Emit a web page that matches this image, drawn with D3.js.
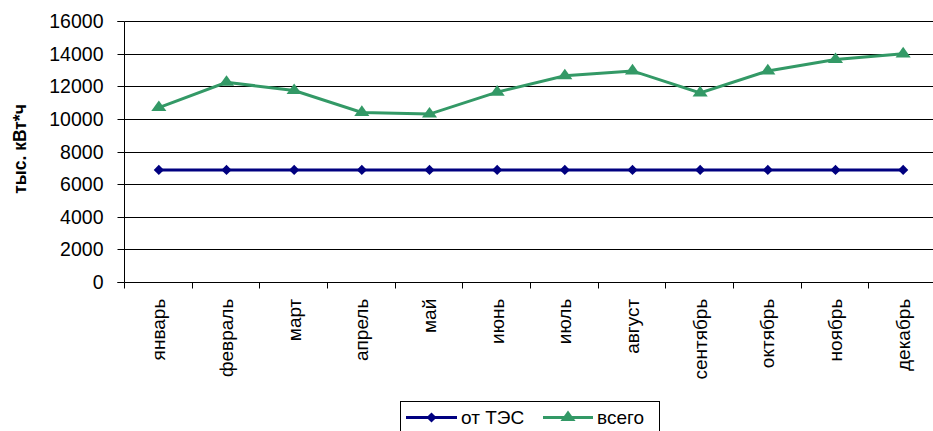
<!DOCTYPE html>
<html>
<head>
<meta charset="utf-8">
<script src="https://cdn.jsdelivr.net/npm/d3@7"></script>
<style>
  html, body { margin: 0; padding: 0; background: #fff; }
  svg { display: block; }
  text { font-family: "Liberation Sans", Arial, sans-serif; fill: #000; }
</style>
</head>
<body>
<svg id="chart" width="933" height="431"></svg>
<script>
// Monthly electricity volumes, thousand kWh
const months = ["январь", "февраль", "март", "апрель", "май", "июнь",
                "июль", "август", "сентябрь", "октябрь", "ноябрь", "декабрь"];
const fromTPP = [6870, 6870, 6870, 6870, 6870, 6870, 6870, 6870, 6870, 6870, 6870, 6870];
const total = [10700, 12250, 11750, 10400, 10300, 11650, 12650, 12950, 11600, 12950, 13650, 14000];
const yTicks = [0, 2000, 4000, 6000, 8000, 10000, 12000, 14000, 16000];
const seriesNames = ["от ТЭС", "всего"];
const yTitle = "тыс. кВт*ч";

const svg = d3.select("#chart");
const plot = { left: 125, right: 937, top: 21.3, bottom: 281.7 };

const x = d3.scaleBand().domain(months).range([plot.left, plot.right]).paddingInner(0).paddingOuter(0);
const y = d3.scaleLinear().domain([0, 16000]).range([plot.bottom, plot.top]);
const cx = m => x(m) + x.bandwidth() / 2;
const crisp = v => Math.round(v) + 0.5;

// horizontal gridlines
svg.append("g").selectAll("line").data(yTicks.slice(1)).join("line")
  .attr("x1", plot.left).attr("x2", 933)
  .attr("y1", d => crisp(y(d))).attr("y2", d => crisp(y(d)))
  .attr("stroke", "#000").attr("stroke-width", 1);

// y axis
const yAxis = d3.axisLeft(y).tickValues(yTicks).tickSize(7).tickPadding(14).tickFormat(d3.format("d"));
const gy = svg.append("g").attr("transform", `translate(${crisp(plot.left) - 1},0)`).call(yAxis);
gy.select(".domain").attr("d", `M-7,${crisp(plot.top)}H0V${crisp(plot.bottom)}H-7`).attr("stroke", "#000");
gy.selectAll(".tick line").attr("stroke", "#000");
gy.selectAll(".tick").attr("transform", d => `translate(0,${crisp(y(d))})`);
gy.selectAll(".tick text").style("font-family", '"Liberation Sans", Arial, sans-serif')
  .style("font-size", "19.5px").attr("fill", "#000").attr("dy", "0.35em");

// x axis with ticks on category boundaries
const boundaries = months.map(m => x(m)).concat([plot.right]);
svg.append("line")
  .attr("x1", plot.left).attr("x2", 933)
  .attr("y1", crisp(plot.bottom)).attr("y2", crisp(plot.bottom))
  .attr("stroke", "#000");
svg.append("g").selectAll("line").data(boundaries).join("line")
  .attr("x1", d => crisp(d) - 1).attr("x2", d => crisp(d) - 1)
  .attr("y1", crisp(plot.bottom)).attr("y2", crisp(plot.bottom) + 6)
  .attr("stroke", "#000");

svg.append("g").selectAll("text").data(months).join("text")
  .attr("transform", d => `translate(${cx(d)},${plot.bottom + 17}) rotate(-90)`)
  .attr("text-anchor", "end")
  .attr("dy", "0.35em")
  .style("font-size", "19px")
  .text(d => d);

// y axis title
svg.append("text")
  .attr("transform", `translate(20,149) rotate(-90)`)
  .attr("text-anchor", "middle")
  .attr("dy", "0.35em")
  .style("font-size", "17.5px").style("font-weight", "bold")
  .text(yTitle);

// series
const line = d3.line().x((d, i) => cx(months[i])).y(d => y(d));
const diamond = d3.symbol(d3.symbolSquare, 52);
const triangle = d3.symbol(d3.symbolTriangle, 90);

svg.append("path").datum(fromTPP).attr("d", line)
  .attr("fill", "none").attr("stroke", "#000080").attr("stroke-width", 3);
svg.append("path").datum(total).attr("d", line)
  .attr("fill", "none").attr("stroke", "#339966").attr("stroke-width", 3);

svg.append("g").selectAll("path").data(fromTPP).join("path")
  .attr("d", diamond)
  .attr("transform", (d, i) => `translate(${cx(months[i])},${y(d)}) rotate(45)`)
  .attr("fill", "#000080");
svg.append("g").selectAll("path").data(total).join("path")
  .attr("d", triangle)
  .attr("transform", (d, i) => `translate(${cx(months[i])},${y(d)}) scale(1.05,0.85)`)
  .attr("fill", "#339966");

// legend
const lg = svg.append("g");
lg.append("rect").attr("x", 400.5).attr("y", 401.5).attr("width", 259).attr("height", 40)
  .attr("fill", "#fff").attr("stroke", "#000");
const legendItems = [
  { name: seriesNames[0], color: "#000080", sym: diamond, rot: "rotate(45)", x0: 406, x1: 457, tx: 461 },
  { name: seriesNames[1], color: "#339966", sym: triangle, rot: "scale(1.05,0.85)", x0: 543, x1: 593, tx: 597 }
];
const ly = 417.5;
legendItems.forEach(it => {
  lg.append("line").attr("x1", it.x0).attr("x2", it.x1).attr("y1", ly).attr("y2", ly)
    .attr("stroke", it.color).attr("stroke-width", 3);
  lg.append("path").attr("d", it.sym)
    .attr("transform", `translate(${(it.x0 + it.x1) / 2},${ly}) ${it.rot}`)
    .attr("fill", it.color);
  lg.append("text").attr("x", it.tx).attr("y", ly).attr("dy", "0.35em")
    .style("font-size", "19px").text(it.name);
});
</script>
</body>
</html>
